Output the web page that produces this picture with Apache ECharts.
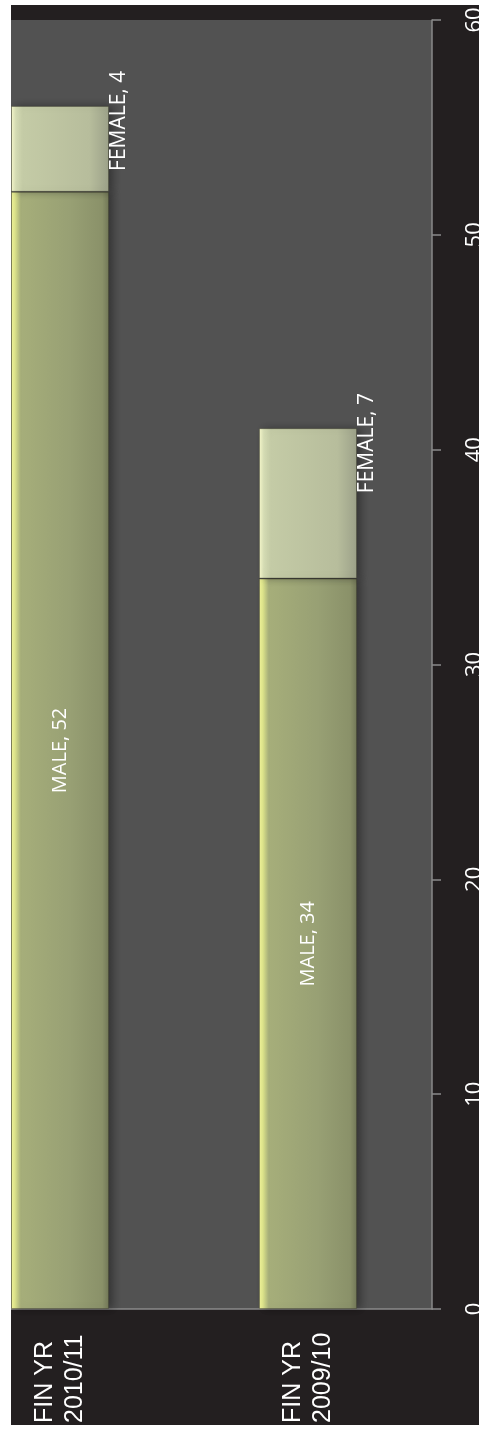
<!DOCTYPE html>
<html>
<head>
<meta charset="utf-8">
<script src="https://cdn.jsdelivr.net/npm/echarts@6/dist/echarts.min.js"></script>
<style>
  html, body { margin: 0; padding: 0; background: #ffffff; }
  #chart { position: absolute; left: 11px; top: 5px; width: 468px; height: 1420px; background: #231f20; }
</style>
</head>
<body>
<div id="chart"></div>
<script>
const categories = ['FIN YR\n2010/11', 'FIN YR\n2009/10'];
const maleValues = [52, 34];
const femaleValues = [4, 7];
const seriesNames = ['MALE', 'FEMALE'];
const valueTicks = { min: 0, max: 60, interval: 10 };

const chart = echarts.init(document.getElementById('chart'), null, { renderer: 'canvas' });

const maleGrad = new echarts.graphic.LinearGradient(0, 0, 1, 0, [
  { offset: 0, color: '#f2f59a' },
  { offset: 0.04, color: '#dde48c' },
  { offset: 0.1, color: '#a6ae7a' },
  { offset: 0.6, color: '#98a074' },
  { offset: 0.93, color: '#8a9169' },
  { offset: 1, color: '#727858' }
]);
const femaleGrad = new echarts.graphic.LinearGradient(0, 0, 1, 0, [
  { offset: 0, color: '#f7f9cc' },
  { offset: 0.05, color: '#d6ddb5' },
  { offset: 0.12, color: '#c4cba6' },
  { offset: 0.8, color: '#b7bd9c' },
  { offset: 1, color: '#9ca189' }
]);

const barFont = '"Open Sans", sans-serif';

chart.setOption({
  backgroundColor: '#231f20',
  animation: false,
  grid: {
    left: -75, right: 47, top: 15, bottom: 116,
    containLabel: false,
    outerBoundsMode: 'none',
    show: true,
    backgroundColor: '#525252',
    borderWidth: 0
  },
  xAxis: {
    type: 'category',
    data: categories,
    axisLine: { show: true, lineStyle: { color: '#8a8a8a', width: 1.5 } },
    axisTick: { show: false },
    axisLabel: {
      rotate: 90,
      align: 'left',
      verticalAlign: 'middle',
      margin: 114,
      color: '#ffffff',
      fontFamily: '"Liberation Sans", Arial, sans-serif',
      fontSize: 25,
      lineHeight: 30
    },
    splitLine: { show: false }
  },
  yAxis: {
    type: 'value',
    position: 'right',
    min: valueTicks.min,
    max: valueTicks.max,
    interval: valueTicks.interval,
    axisLine: { show: true, lineStyle: { color: '#8a8a8a', width: 1.5 } },
    axisTick: { show: true, inside: false, length: 9, lineStyle: { color: '#8a8a8a', width: 1.5 } },
    axisLabel: {
      rotate: 90,
      margin: 32,
      color: '#ffffff',
      fontFamily: barFont,
      fontSize: 22
    },
    splitLine: { show: false }
  },
  series: [
    {
      name: seriesNames[0],
      type: 'bar',
      stack: 'total',
      barWidth: 98,
      data: maleValues,
      itemStyle: {
        color: maleGrad,
        borderColor: 'rgba(60,60,40,0.35)',
        borderWidth: 1,
        shadowColor: 'rgba(0,0,0,0.35)',
        shadowBlur: 8,
        shadowOffsetX: 4
      },
      label: {
        show: true,
        position: 'inside',
        rotate: 90,
        formatter: p => p.seriesName + ', ' + p.value,
        color: '#ffffff',
        fontFamily: barFont,
        fontSize: 20
      }
    },
    {
      name: seriesNames[1],
      type: 'bar',
      stack: 'total',
      barWidth: 98,
      data: femaleValues,
      itemStyle: {
        color: femaleGrad,
        borderColor: 'rgba(60,60,40,0.35)',
        borderWidth: 1,
        shadowColor: 'rgba(0,0,0,0.35)',
        shadowBlur: 8,
        shadowOffsetX: 4
      },
      label: {
        show: true,
        position: [108, 65],
        rotate: 90,
        align: 'left',
        verticalAlign: 'middle',
        formatter: p => p.seriesName + ', ' + p.value,
        color: '#ffffff',
        fontFamily: barFont,
        fontSize: 21
      }
    }
  ]
});
</script>
</body>
</html>
